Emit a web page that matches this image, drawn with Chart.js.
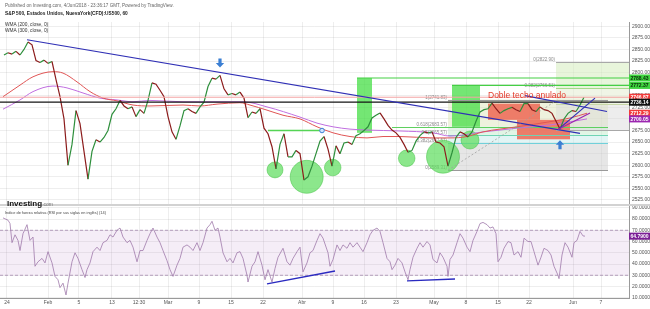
<!DOCTYPE html>
<html>
<head>
<meta charset="utf-8">
<script src="https://cdn.jsdelivr.net/npm/chart.js@4.4.1/dist/chart.umd.min.js"></script>
<style>
  body { margin: 0; background: #fff; width: 650px; height: 309px; overflow: hidden; position: relative; font-family: Arial, "Liberation Sans", sans-serif; }
  #cajaPrecio { position: absolute; left: 0; top: 0; width: 650px; height: 207px; }
  #cajaRsi { position: absolute; left: 0; top: 206px; width: 650px; height: 103px; }
  #separador { position: absolute; left: 0; top: 204px; width: 650px; height: 2px; background: #d2d2d2; }
  .txt { position: absolute; white-space: nowrap; color: #444; }
</style>
</head>
<body>
<div id="cajaPrecio"><canvas id="precio"></canvas></div>
<div id="cajaRsi"><canvas id="rsi"></canvas></div>
<div id="separador"></div>
<div class="txt" style="left:5px;top:3px;font-size:4.6px;color:#666">Published on Investing.com, 4/Jun/2018 - 23:36:17 GMT, Powered by TradingView.</div>
<div class="txt" style="left:5px;top:11px;font-size:4.8px;font-weight:bold;color:#222">S&amp;P 500, Estados Unidos, NuevaYork(CFD):US500, 60</div>
<div class="txt" style="left:5px;top:22px;font-size:4.8px;color:#333">WMA (200, close, 0)</div>
<div class="txt" style="left:5px;top:28px;font-size:4.8px;color:#333">WMA (300, close, 0)</div>
<div class="txt" style="left:7px;top:192px;"><span style="font-size:8px;font-weight:bold;color:#111">Investing</span><span style="font-size:5px;color:#777">.com</span></div>
<div class="txt" style="left:5px;top:210px;font-size:3.9px;color:#444">Índice de fuerza relativa (RSI por sus siglas en inglés) (14)</div>
<script>
// eje de tiempo: posiciones de las velas (unidad = columna del gráfico)
const barStep = 4;
const xTickBars = [7, 48, 79, 112, 139, 168, 199, 231, 263, 302, 333, 364, 396, 434, 466, 498, 529, 573, 601];
const xTickLabels = ['24', 'Feb', '5', '13', '12:30', 'Mar', '9', '15', '22', 'Abr', '9', '16', '23', 'May', '8', '15', '22', 'Jun', '7'];

// cierres (muestreados), uno cada barStep
const closes = [
  2838, 2843, 2840, 2846, 2838, 2850, 2866, 2860, 2826, 2822, 2827, 2820, 2824, 2785, 2748, 2700,
  2600, 2645, 2718, 2690, 2630, 2570, 2630, 2655, 2650, 2660, 2675, 2710, 2722, 2740, 2728, 2722,
  2726, 2705, 2720, 2712, 2740, 2778, 2775, 2762, 2748, 2705, 2672, 2656, 2685, 2718, 2722, 2716,
  2712, 2726, 2736, 2770, 2788, 2786, 2794, 2765, 2752, 2755, 2752, 2758, 2745, 2703, 2715, 2712,
  2722, 2680, 2668, 2640, 2592, 2645, 2668, 2618, 2618, 2632, 2625, 2568, 2575, 2598, 2625, 2652,
  2662, 2635, 2598, 2642, 2625, 2648, 2650, 2645, 2664, 2668, 2675, 2683, 2702, 2708, 2713, 2700,
  2686, 2676, 2670, 2660, 2645, 2628, 2632, 2652, 2664, 2672, 2670, 2672, 2650, 2648, 2640, 2598,
  2627, 2660, 2672, 2668, 2661, 2672, 2695, 2715, 2720, 2722, 2734, 2722, 2712, 2718, 2722, 2725,
  2720, 2716, 2733, 2733, 2720, 2716, 2726, 2720, 2718, 2712, 2695, 2678, 2700, 2712, 2718, 2716,
  2730, 2747
];

// medias móviles ponderadas
const wma200Bars = [3, 20, 33, 53, 63, 77, 90, 103, 117, 133, 150, 183, 200, 217, 240, 250, 267, 283, 300, 317, 333, 350, 367, 383, 400, 433, 450, 467, 483, 517, 550, 570, 587];
const wma200 = [2748, 2773, 2791, 2802, 2799, 2780, 2759, 2745, 2739, 2730, 2728, 2730, 2728, 2732, 2735, 2730, 2719, 2708, 2700, 2683, 2670, 2662, 2659, 2662, 2662, 2659, 2659, 2662, 2672, 2683, 2694, 2702, 2712.29];
const wma300Bars = [3, 20, 33, 53, 67, 83, 100, 117, 133, 150, 183, 217, 243, 267, 300, 317, 333, 350, 367, 400, 433, 450, 483, 517, 550, 587];
const wma300 = [2721, 2741, 2759, 2771, 2767, 2756, 2745, 2741, 2737, 2740, 2737, 2737, 2737, 2726, 2704, 2691, 2683, 2678, 2676, 2674, 2670, 2663, 2672, 2680, 2687, 2700.05];

// RSI (14)
const rsiBars = [3, 8, 10, 12, 15, 18, 20, 23, 27, 30, 33, 35, 38, 42, 45, 48, 52, 55, 58, 60, 63, 66, 68, 72, 75, 78, 82, 85, 87, 90,
  93, 97, 100, 103, 107, 110, 113, 117, 120, 123, 127, 130, 133, 137, 140, 143, 147, 150, 153, 157, 160, 163, 167, 170, 173, 177, 180, 183, 187, 190,
  193, 197, 200, 203, 207, 210, 212, 215, 218, 220, 223, 227, 230, 233, 237, 240, 243, 247, 248, 252, 255, 258, 262, 265, 268, 272, 275, 278, 283, 287,
  290, 293, 297, 300, 303, 307, 310, 313, 317, 320, 323, 328, 330, 333, 337, 340, 343, 347, 350, 353, 357, 360, 363, 367, 370, 373, 377, 380, 383, 387,
  390, 392, 395, 398, 402, 405, 408, 410, 413, 417, 420, 423, 427, 430, 433, 437, 440, 443, 447, 448, 450, 453, 457, 460, 463, 467, 470, 473, 477, 480,
  483, 487, 490, 493, 496, 498, 501, 504, 508, 511, 514, 518, 521, 524, 528, 531, 534, 538, 541, 544, 548, 551, 554, 558, 559, 562, 565, 568, 572, 574,
  577, 580, 583, 585];
const rsiValues = [81, 79, 76, 59, 66, 61, 52, 67, 75, 61, 64, 38, 42, 45, 41, 51, 41, 29, 26, 19, 23, 12.5, 23, 42, 50, 45, 35, 28, 35, 41,
  51, 55, 52, 59, 61, 66, 64, 70, 72, 64, 59, 61, 55, 42, 52, 52, 61, 67, 72, 64, 59, 52, 43, 35, 29, 39, 45, 55, 57, 55,
  52, 59, 52, 59, 72, 75, 78, 70, 72, 64, 50, 42, 45, 41, 50, 51, 45, 30, 24, 38, 42, 51, 39, 26, 35, 24, 36, 46, 54, 42,
  39, 45, 51, 55, 33, 41, 50, 52, 61, 67, 63, 50, 38, 44, 57, 52, 57, 54, 59, 55, 59, 55, 51, 59, 66, 70, 72, 69, 59, 45,
  42, 35, 39, 45, 41, 33, 26, 35, 46, 54, 59, 55, 60, 57, 44, 41, 50, 46, 38, 29, 44, 48, 59, 67, 63, 55, 51, 61, 69, 76,
  77, 75, 72, 73, 67, 42, 46, 54, 60, 59, 48, 51, 46, 63, 60, 60, 51, 39, 46, 54, 52, 48, 38, 30, 27, 48, 59, 55, 46, 59,
  61, 69, 65, 64.79];

// dibujos del analista (en unidades de tiempo / precio)
const lineas = [ // [t0, p0, t1, p1, color, grosor, discontinua]
  [27, 2871, 580, 2669, '#2f2fb5', 1.2, false],
  [525, 2750.5, 607, 2716, '#2f2fb5', 1.2, false],
  [558, 2677, 595, 2745, '#2f2fb5', 1.2, false],
  [558, 2677, 590, 2713, '#9c27b0', 1.2, false],
  [268, 2675, 322, 2675, '#55d455', 1.3, false],
  [448, 2589.31, 558, 2741.83, '#a0a0a0', 0.8, true]
];
const horizontales = [ // [precio, desde, color, grosor]
  [2746.87, 0, '#f3a3a3', 1],
  [2736.14, 0, '#151515', 1.2],
  [2788.43, 357, '#45cf45', 1.2],
  [2772.37, 452, '#45cf45', 1.2]
];
const zonas = [ // [t0, t1, precioAlto, precioBajo, color]
  [448, 608, 2741.83, 2683.57, 'rgba(222,230,188,0.5)'],
  [448, 608, 2683.57, 2665.57, 'rgba(196,236,204,0.5)'],
  [448, 608, 2665.57, 2647.57, 'rgba(190,232,232,0.45)'],
  [448, 608, 2647.57, 2589.31, 'rgba(205,205,205,0.5)'],
  [556, 629, 2822.9, 2766.51, 'rgba(214,236,190,0.55)'],
  [556, 629, 2766.51, 2731.7, 'rgba(226,236,206,0.5)'],
  [556, 629, 2731.7, 2675.3, 'rgba(215,215,215,0.45)'],
  [357, 372, 2788.4, 2670, 'rgba(70,222,70,0.75)'],
  [452, 480, 2772.4, 2683, 'rgba(70,222,70,0.75)'],
  [488, 540, 2733, 2698, 'rgba(238,98,78,0.82)'],
  [517, 570, 2698, 2656, 'rgba(238,98,78,0.82)']
];
const fibNiveles = [ // [t0, t1, precio, color, etiqueta]
  [448, 608, 2741.83, '#9a9a9a', '1(2741.83)'],
  [392, 608, 2683.57, '#5fd05f', '0.618(2683.57)'],
  [448, 608, 2665.57, '#6fd4b4', '0.5(2665.57)'],
  [448, 608, 2647.57, '#70d0da', '0.382(2647.57)'],
  [448, 608, 2589.31, '#9a9a9a', '0(2589.31)'],
  [556, 629, 2822.9, '#a8a8a8', '0(2822.90)'],
  [556, 629, 2766.51, '#a5d98a', '0.382(2766.51)'],
  [556, 629, 2731.7, '#c8d8a8', ''],
  [556, 629, 2675.3, '#a8a8a8', '']
];
const circulos = [ // [t, precio, radio]
  [275, 2590, 8], [306.7, 2575, 16.5], [332.7, 2595, 8.3], [406.7, 2615, 8.3], [443, 2618.5, 16.5], [470, 2654.5, 9]
];
const flechas = [ // [t, precio, dirección]
  [220, 2821, 'abajo'], [560, 2644, 'arriba']
];
const etiquetasEje = [ // [precio, fondo, texto]
  [2788.43, '#3fd43f', '#0a2a0a'], [2772.37, '#3fd43f', '#0a2a0a'], [2746.87, '#f23b3b', '#fff'],
  [2736.14, '#111', '#fff'], [2712.29, '#f23b3b', '#fff'], [2700.05, '#9c27b0', '#fff']
];
const rsiLineas = [[267, 22.3, 335, 33.8], [407, 25.1, 455, 26.7]];
const rsiUltimo = 64.79;

const gridColor = 'rgba(0,0,0,0.065)';
const tickFont = { family: 'Arial, "Liberation Sans", sans-serif', size: 5 };

function ejeTiempo(conEtiquetas) {
  return {
    type: 'linear', min: 0, max: 629,
    afterBuildTicks: s => { s.ticks = xTickBars.map(v => ({ value: v })); },
    afterFit: s => { s.height = conEtiquetas ? 11 : 0; s.paddingLeft = 0; s.paddingRight = 0; },
    grid: { color: gridColor, drawTicks: false },
    border: { display: conEtiquetas, color: '#9a9a9a' },
    ticks: { display: conEtiquetas, autoSkip: false, maxRotation: 0, padding: 1.5, color: '#555', font: tickFont,
      callback: (v, i) => xTickLabels[i] }
  };
}

function ejePrecio(min, max, paso, decimales) {
  return {
    position: 'right', min: min, max: max,
    afterFit: s => { s.width = 21; s.paddingTop = 0; s.paddingBottom = 0; },
    grid: { color: gridColor, drawTicks: false },
    border: { color: '#9a9a9a' },
    ticks: { stepSize: paso, includeBounds: false, padding: 3, color: '#555', font: tickFont,
      callback: v => v.toFixed(decimales) }
  };
}

function etiqueta(ctx, x, y, texto, fondo, color) {
  ctx.fillStyle = fondo;
  ctx.fillRect(x, y - 3.5, 21, 7);
  ctx.fillStyle = color;
  ctx.font = 'bold 5px Arial, "Liberation Sans", sans-serif';
  ctx.textAlign = 'left';
  ctx.textBaseline = 'middle';
  ctx.fillText(texto, x + 1.5, y + 0.3);
}

const dibujos = {
  id: 'dibujos',
  beforeDatasetsDraw(chart) {
    const { ctx, chartArea: a, scales: { x, y } } = chart;
    ctx.save();
    ctx.beginPath(); ctx.rect(a.left, a.top, a.width, a.height); ctx.clip();
    zonas.forEach(([t0, t1, p0, p1, c]) => {
      ctx.fillStyle = c;
      const yy = y.getPixelForValue(p0);
      ctx.fillRect(x.getPixelForValue(t0), yy, x.getPixelForValue(t1) - x.getPixelForValue(t0), y.getPixelForValue(p1) - yy);
    });
    fibNiveles.forEach(([t0, t1, p, c, txt]) => {
      const yy = Math.round(y.getPixelForValue(p)) + 0.5;
      ctx.strokeStyle = c; ctx.lineWidth = 1;
      ctx.beginPath(); ctx.moveTo(x.getPixelForValue(t0), yy); ctx.lineTo(x.getPixelForValue(t1), yy); ctx.stroke();
      if (txt) {
        ctx.fillStyle = '#8a8a8a';
        ctx.font = '4.5px Arial, "Liberation Sans", sans-serif';
        ctx.textAlign = 'right'; ctx.textBaseline = 'bottom';
        ctx.fillText(txt, x.getPixelForValue(t0 < 448 ? 448 : t0) - 1, yy);
      }
    });
    circulos.forEach(([t, p, r]) => {
      ctx.beginPath();
      ctx.arc(x.getPixelForValue(t), y.getPixelForValue(p), r, 0, Math.PI * 2);
      ctx.fillStyle = 'rgba(95,222,95,0.72)';
      ctx.fill();
      ctx.strokeStyle = 'rgba(60,190,60,0.8)'; ctx.lineWidth = 0.6; ctx.stroke();
    });
    ctx.restore();
  },
  afterDatasetsDraw(chart) {
    const { ctx, chartArea: a, scales: { x, y } } = chart;
    ctx.save();
    ctx.beginPath(); ctx.rect(a.left, a.top, a.width, a.height); ctx.clip();
    horizontales.forEach(([p, t0, c, w]) => {
      const yy = y.getPixelForValue(p);
      ctx.strokeStyle = c; ctx.lineWidth = w;
      ctx.beginPath(); ctx.moveTo(x.getPixelForValue(t0), yy); ctx.lineTo(a.right, yy); ctx.stroke();
    });
    lineas.forEach(([t0, p0, t1, p1, c, w, dash]) => {
      ctx.strokeStyle = c; ctx.lineWidth = w;
      ctx.setLineDash(dash ? [2, 2] : []);
      ctx.beginPath();
      ctx.moveTo(x.getPixelForValue(t0), y.getPixelForValue(p0));
      ctx.lineTo(x.getPixelForValue(t1), y.getPixelForValue(p1));
      ctx.stroke();
    });
    ctx.setLineDash([]);
    // marcador azul sobre la línea de soporte
    ctx.beginPath();
    ctx.arc(x.getPixelForValue(322), y.getPixelForValue(2675), 2.3, 0, Math.PI * 2);
    ctx.fillStyle = '#cfe4ff'; ctx.fill();
    ctx.strokeStyle = '#3a7fd5'; ctx.lineWidth = 1; ctx.stroke();
    flechas.forEach(([t, p, dir]) => {
      const cx = x.getPixelForValue(t), cy = y.getPixelForValue(p);
      const s = dir === 'abajo' ? 1 : -1;
      ctx.fillStyle = '#3b7fd3';
      ctx.beginPath();
      ctx.moveTo(cx - 1.6, cy - 4.5 * s);
      ctx.lineTo(cx + 1.6, cy - 4.5 * s);
      ctx.lineTo(cx + 1.6, cy);
      ctx.lineTo(cx + 4.2, cy);
      ctx.lineTo(cx, cy + 4.5 * s);
      ctx.lineTo(cx - 4.2, cy);
      ctx.lineTo(cx - 1.6, cy);
      ctx.closePath();
      ctx.fill();
    });
    ctx.fillStyle = '#e23a2a';
    ctx.font = '8.5px Arial, "Liberation Sans", sans-serif';
    ctx.textAlign = 'left'; ctx.textBaseline = 'middle';
    ctx.fillText('Doble techo anulado', x.getPixelForValue(488), y.getPixelForValue(2750));
    ctx.restore();
  },
  afterDraw(chart) {
    const { ctx, chartArea: a, scales: { y } } = chart;
    ctx.save();
    etiquetasEje.forEach(([p, fondo, color]) => etiqueta(ctx, a.right, y.getPixelForValue(p), p.toFixed(2), fondo, color));
    ctx.restore();
  }
};

new Chart(document.getElementById('precio').getContext('2d'), {
  type: 'line',
  data: {
    datasets: [
      {
        label: 'US500',
        data: closes.map((c, i) => ({ x: (i + 1) * barStep, y: c })),
        borderWidth: 1.2,
        pointRadius: 0,
        segment: { borderColor: s => s.p1.parsed.y >= s.p0.parsed.y ? '#2e8f3c' : '#8c1c1c' }
      },
      {
        label: 'WMA 200',
        data: wma200Bars.map((t, i) => ({ x: t, y: wma200[i] })),
        borderColor: '#e05555', borderWidth: 1, pointRadius: 0, cubicInterpolationMode: 'monotone'
      },
      {
        label: 'WMA 300',
        data: wma300Bars.map((t, i) => ({ x: t, y: wma300[i] })),
        borderColor: '#c06ee0', borderWidth: 1, pointRadius: 0, cubicInterpolationMode: 'monotone'
      }
    ]
  },
  options: {
    responsive: true, maintainAspectRatio: false, animation: false,
    layout: { padding: { top: 22, bottom: 1, left: 0, right: 0 } },
    plugins: { legend: { display: false }, tooltip: { enabled: false } },
    scales: { x: ejeTiempo(false), y: ejePrecio(2512, 2909.3, 25, 2) }
  },
  plugins: [dibujos]
});

const bandaRsi = {
  id: 'bandaRsi',
  beforeDatasetsDraw(chart) {
    const { ctx, chartArea: a, scales: { x, y } } = chart;
    ctx.save();
    const y70 = y.getPixelForValue(70), y30 = y.getPixelForValue(30);
    ctx.fillStyle = 'rgba(155,80,175,0.1)';
    ctx.fillRect(a.left, y70, a.width, y30 - y70);
    ctx.strokeStyle = '#a58aae'; ctx.lineWidth = 0.8; ctx.setLineDash([3, 2]);
    [y70, y30].forEach(yy => { ctx.beginPath(); ctx.moveTo(a.left, yy); ctx.lineTo(a.right, yy); ctx.stroke(); });
    ctx.restore();
  },
  afterDatasetsDraw(chart) {
    const { ctx, scales: { x, y } } = chart;
    ctx.save();
    ctx.strokeStyle = '#2a2ac0'; ctx.lineWidth = 1.3;
    rsiLineas.forEach(([t0, v0, t1, v1]) => {
      ctx.beginPath();
      ctx.moveTo(x.getPixelForValue(t0), y.getPixelForValue(v0));
      ctx.lineTo(x.getPixelForValue(t1), y.getPixelForValue(v1));
      ctx.stroke();
    });
    ctx.restore();
  },
  afterDraw(chart) {
    const { ctx, chartArea: a, scales: { y } } = chart;
    ctx.save();
    etiqueta(ctx, a.right, y.getPixelForValue(rsiUltimo), rsiUltimo.toFixed(4), '#7b1f96', '#fff');
    ctx.restore();
  }
};

new Chart(document.getElementById('rsi').getContext('2d'), {
  type: 'line',
  data: {
    datasets: [{
      label: 'RSI 14',
      data: rsiBars.map((t, i) => ({ x: t, y: rsiValues[i] })),
      borderColor: '#a07aab', borderWidth: 0.8, pointRadius: 0
    }]
  },
  options: {
    responsive: true, maintainAspectRatio: false, animation: false,
    layout: { padding: { top: 1, bottom: 0, left: 0, right: 0 } },
    plugins: { legend: { display: false }, tooltip: { enabled: false } },
    scales: { x: ejeTiempo(true), y: ejePrecio(9.8, 90.7, 10, 4) }
  },
  plugins: [bandaRsi]
});
</script>
</body>
</html>
